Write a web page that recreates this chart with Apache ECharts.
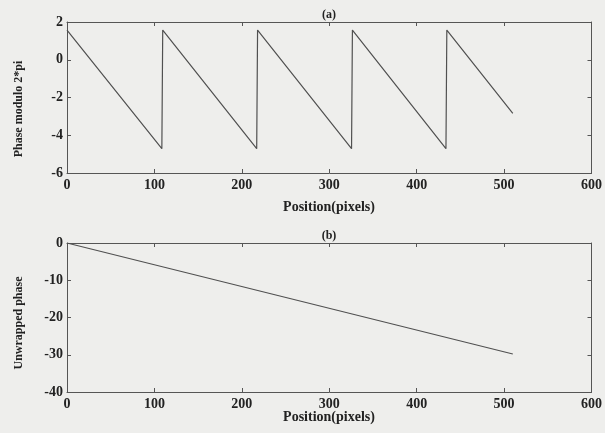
<!DOCTYPE html>
<html>
<head>
<meta charset="utf-8">
<script src="https://cdn.jsdelivr.net/npm/echarts@6/dist/echarts.min.js"></script>
<style>
html,body{margin:0;padding:0;background:#eeeeec;}
#c{width:605px;height:433px;}
</style>
</head>
<body>
<div id="c"></div>
<script>
// Panel (a): wrapped phase, vertices of the sawtooth
const wrappedX = [0, 108.5, 109.5, 217, 218, 325.5, 326.5, 433.5, 434.5, 510];
const wrappedY = [1.57, -4.71, 1.57, -4.71, 1.57, -4.71, 1.57, -4.71, 1.57, -2.84];
// Panel (b): unwrapped phase
const unwrappedX = [0, 510];
const unwrappedY = [0, -29.8];
// Tick settings
const xTicks = {min: 0, max: 600, interval: 100};
const yTicksA = {min: -6, max: 2, interval: 2};
const yTicksB = {min: -40, max: 0, interval: 10};
const titles = ['(a)', '(b)'];
const xName = 'Position(pixels)';
const yNames = ['Phase modulo 2*pi', 'Unwrapped phase'];

const FONT = '"Liberation Serif", "DejaVu Serif", serif';
const INK = '#222';
const AX = '#555';

function xAx(grid, pos, labels) {
  return {
    type: 'value', gridIndex: grid, position: pos,
    min: xTicks.min, max: xTicks.max, interval: xTicks.interval,
    axisLine: {show: true, onZero: false, lineStyle: {color: AX, width: 1}},
    axisTick: {show: true, inside: true, length: 4, lineStyle: {color: AX}},
    axisLabel: {show: labels, margin: 5, color: INK, fontFamily: FONT, fontSize: 14, fontWeight: 'bold',
                showMinLabel: true, showMaxLabel: true},
    splitLine: {show: false}
  };
}
function yAx(grid, pos, t, labels) {
  return {
    type: 'value', gridIndex: grid, position: pos,
    min: t.min, max: t.max, interval: t.interval,
    axisLine: {show: true, onZero: false, lineStyle: {color: AX, width: 1}},
    axisTick: {show: true, inside: true, length: 4, lineStyle: {color: AX}},
    axisLabel: {show: labels, margin: 4, color: INK, fontFamily: FONT, fontSize: 14, fontWeight: 'bold',
                showMinLabel: true, showMaxLabel: true},
    splitLine: {show: false}
  };
}

const chart = echarts.init(document.getElementById('c'), null, {renderer: 'canvas'});
const txt = (x, y, s, rot, size) => ({
  type: 'text', x: x, y: y, rotation: rot || 0,
  style: {text: s, fill: INK, font: 'bold ' + (size || 14) + 'px ' + FONT, align: 'center', verticalAlign: 'middle'}
});

chart.setOption({
  backgroundColor: '#eeeeec',
  animation: false,
  grid: [
    {left: 67, right: 13, top: 22, height: 151},
    {left: 67, right: 13, top: 243, height: 149}
  ],
  xAxis: [xAx(0, 'bottom', true), xAx(0, 'top', false), xAx(1, 'bottom', true), xAx(1, 'top', false)],
  yAxis: [yAx(0, 'left', yTicksA, true), yAx(0, 'right', yTicksA, false),
          yAx(1, 'left', yTicksB, true), yAx(1, 'right', yTicksB, false)],
  series: [
    {type: 'line', xAxisIndex: 0, yAxisIndex: 0, showSymbol: false, symbol: 'none',
     lineStyle: {color: '#505050', width: 1.2},
     data: wrappedX.map((x, i) => [x, wrappedY[i]])},
    {type: 'line', xAxisIndex: 2, yAxisIndex: 2, showSymbol: false, symbol: 'none',
     lineStyle: {color: '#505050', width: 1.2},
     data: unwrappedX.map((x, i) => [x, unwrappedY[i]])}
  ],
  graphic: [
    txt(329, 15, titles[0], 0, 12),
    txt(329, 236, titles[1], 0, 12),
    txt(329, 207, xName, 0, 14),
    txt(329, 417, xName, 0, 14),
    txt(19, 109, yNames[0], Math.PI / 2, 12),
    txt(19, 323, yNames[1], Math.PI / 2, 12)
  ]
});
</script>
</body>
</html>
